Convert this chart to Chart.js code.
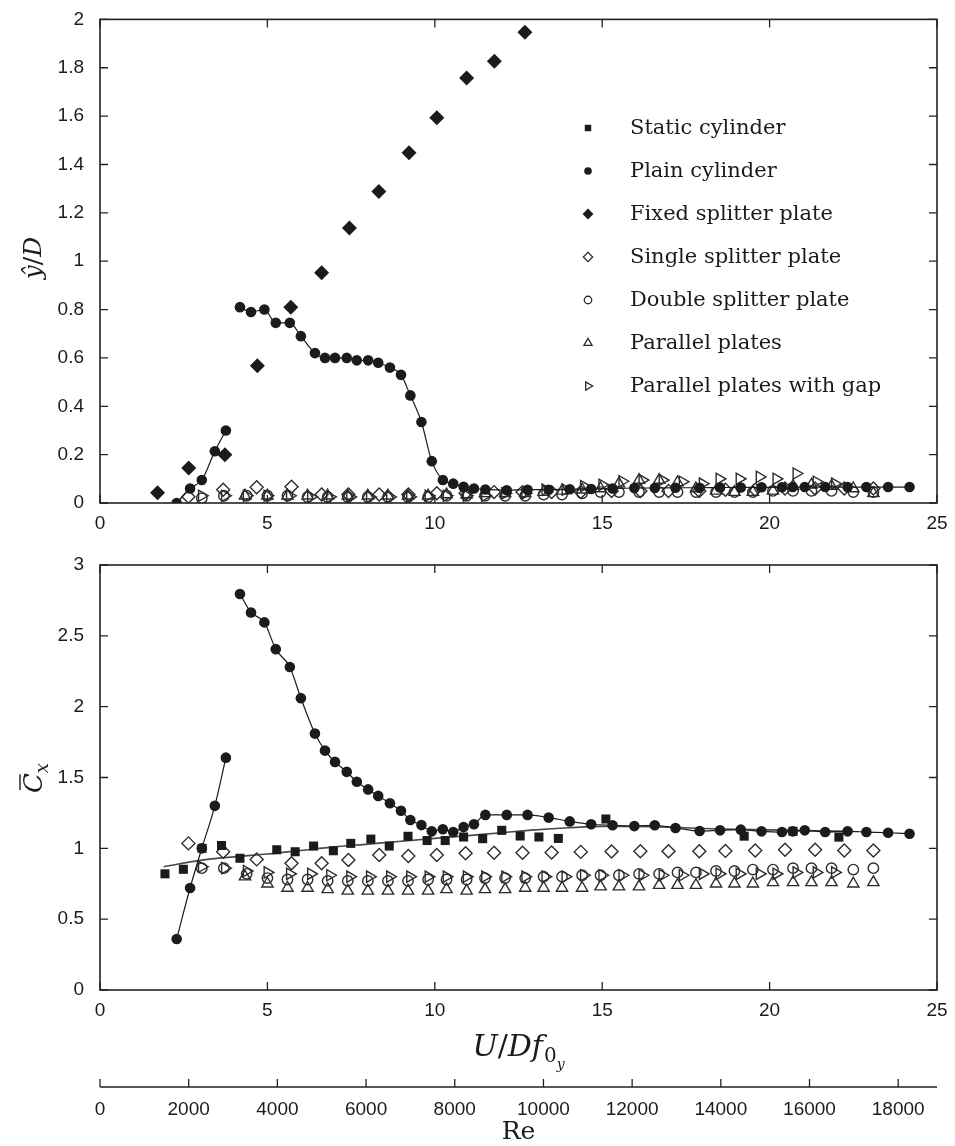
<!DOCTYPE html>
<html>
<head>
<meta charset="utf-8">
<title>Cylinder response: amplitude and mean drag</title>
<script src="https://cdn.jsdelivr.net/npm/chart.js@4.4.1/dist/chart.umd.min.js"></script>
<style>
  body { margin: 0; background: #fff; }
  #wrap { position: relative; width: 955px; height: 1146px; }
  #ampBox { position: absolute; left: 0; top: 0; width: 955px; height: 545px; }
  #dragBox { position: absolute; left: 0; top: 545px; width: 955px; height: 601px; }
</style>
</head>
<body>
<div id="wrap">
  <div id="ampBox"><canvas id="ampChart"></canvas></div>
  <div id="dragBox"><canvas id="dragChart"></canvas></div>
</div>
<script>
// axis ticks
const uTicks = [0, 5, 10, 15, 20, 25];
const ampTicks = [0, 0.2, 0.4, 0.6, 0.8, 1, 1.2, 1.4, 1.6, 1.8, 2];
const cxTicks = [0, 0.5, 1, 1.5, 2, 2.5, 3];
const reTicks = [0, 2000, 4000, 6000, 8000, 10000, 12000, 14000, 16000, 18000];
const reAtU25 = 18875; // Re at U/Df = 25

// plain cylinder, lower and upper branch
const plainLowU = [2.29, 2.69, 3.04, 3.43, 3.76];
const plainLowAmp = [0.0, 0.06, 0.095, 0.214, 0.30];
const plainLowCx = [0.36, 0.72, 1.0, 1.30, 1.64];

const plainHighU = [4.18, 4.51, 4.91, 5.25, 5.67, 6.0, 6.42, 6.72, 7.02, 7.37, 7.67, 8.01, 8.31, 8.66, 8.99,
  9.27, 9.6, 9.91, 10.24, 10.55, 10.86, 11.17, 11.51, 12.15, 12.77, 13.4, 14.03, 14.67, 15.31, 15.96,
  16.57, 17.19, 17.91, 18.52, 19.14, 19.76, 20.37, 20.69, 21.05, 21.66, 22.33, 22.89, 23.54, 24.18];
const plainHighAmp = [0.81, 0.79, 0.80, 0.745, 0.745, 0.69, 0.62, 0.60, 0.60, 0.60, 0.59, 0.59, 0.58, 0.56, 0.53,
  0.445, 0.335, 0.173, 0.095, 0.08, 0.067, 0.06, 0.056, 0.053, 0.055, 0.055, 0.057, 0.058, 0.06, 0.062,
  0.062, 0.063, 0.063, 0.064, 0.064, 0.065, 0.065, 0.066, 0.066, 0.066, 0.066, 0.066, 0.066, 0.066];
const plainHighCx = [2.795, 2.665, 2.595, 2.406, 2.28, 2.06, 1.81, 1.69, 1.61, 1.54, 1.47, 1.416, 1.37, 1.318, 1.265,
  1.2, 1.164, 1.12, 1.135, 1.115, 1.15, 1.17, 1.236, 1.236, 1.236, 1.217, 1.19, 1.17, 1.163, 1.157,
  1.163, 1.144, 1.122, 1.127, 1.132, 1.12, 1.115, 1.12, 1.127, 1.115, 1.12, 1.115, 1.11, 1.103];

// static cylinder (drag only) and its fitted curve
const staticU = [1.94, 2.49, 3.05, 3.63, 4.18, 5.28, 5.83, 6.38, 6.97, 7.49, 8.09, 8.64, 9.2, 9.77, 10.31,
  10.86, 11.43, 12.0, 12.55, 13.11, 13.69, 15.11, 19.24, 20.7, 22.07];
const staticCx = [0.82, 0.852, 1.0, 1.02, 0.93, 0.99, 0.976, 1.016, 0.983, 1.035, 1.065, 1.016, 1.085, 1.055, 1.055,
  1.08, 1.068, 1.127, 1.087, 1.08, 1.07, 1.207, 1.086, 1.12, 1.079];
const staticFitU = [1.9, 3, 4, 5, 6, 7, 8, 9, 10, 11, 12, 13, 14, 15, 16, 17, 18, 19, 20, 21, 22.3];
const staticFitCx = [0.87, 0.915, 0.94, 0.96, 0.985, 1.01, 1.03, 1.05, 1.07, 1.09, 1.11, 1.13, 1.145, 1.155, 1.155,
  1.15, 1.14, 1.135, 1.13, 1.125, 1.12];

// fixed splitter plate (amplitude only)
const fixedU = [1.72, 2.65, 3.73, 4.70, 5.70, 6.62, 7.45, 8.33, 9.23, 10.06, 10.95, 11.78, 12.69];
const fixedAmp = [0.042, 0.145, 0.20, 0.568, 0.81, 0.952, 1.137, 1.288, 1.449, 1.593, 1.758, 1.827, 1.947];

// single splitter plate
const singleU = [2.64, 3.68, 4.68, 5.72, 6.62, 7.42, 8.34, 9.21, 10.06, 10.92, 11.77, 12.62, 13.49, 14.36, 15.28,
  16.14, 16.98, 17.9, 18.68, 19.57, 20.46, 21.36, 22.23, 23.1];
const singleAmp = [0.026, 0.055, 0.065, 0.067, 0.035, 0.035, 0.035, 0.035, 0.04, 0.04, 0.045, 0.045, 0.045, 0.045, 0.05,
  0.05, 0.05, 0.05, 0.055, 0.055, 0.06, 0.06, 0.06, 0.06];
const singleCx = [1.035, 0.976, 0.922, 0.894, 0.894, 0.917, 0.953, 0.946, 0.953, 0.965, 0.969, 0.969, 0.97, 0.975, 0.977,
  0.98, 0.98, 0.98, 0.982, 0.985, 0.99, 0.99, 0.985, 0.985];

// double splitter plate
const doubleU = [3.04, 3.7, 4.38, 5.0, 5.6, 6.2, 6.8, 7.4, 8.0, 8.6, 9.2, 9.8, 10.35, 10.95, 11.5, 12.1, 12.7,
  13.25, 13.8, 14.4, 14.95, 15.5, 16.1, 16.7, 17.25, 17.8, 18.4, 18.95, 19.5, 20.1, 20.7, 21.25, 21.85, 22.5, 23.1];
const doubleAmp = [0.02, 0.03, 0.03, 0.03, 0.03, 0.025, 0.025, 0.025, 0.025, 0.025, 0.025, 0.025, 0.03, 0.03, 0.03,
  0.03, 0.03, 0.035, 0.035, 0.04, 0.045, 0.045, 0.045, 0.045, 0.045, 0.045, 0.045, 0.045, 0.045, 0.05,
  0.05, 0.05, 0.05, 0.045, 0.045];
const doubleCx = [0.86, 0.86, 0.82, 0.79, 0.78, 0.78, 0.77, 0.77, 0.77, 0.77, 0.77, 0.78, 0.78, 0.78, 0.79,
  0.79, 0.79, 0.80, 0.80, 0.81, 0.81, 0.81, 0.82, 0.82, 0.83, 0.83, 0.84, 0.84, 0.85, 0.85,
  0.86, 0.86, 0.86, 0.85, 0.86];

// parallel plates
const parU = [4.33, 5.0, 5.6, 6.2, 6.8, 7.4, 8.0, 8.6, 9.2, 9.8, 10.35, 10.95, 11.5, 12.1, 12.7, 13.25, 13.8,
  14.4, 14.95, 15.5, 16.1, 16.7, 17.25, 17.8, 18.4, 18.95, 19.5, 20.1, 20.7, 21.25, 21.85, 22.5, 23.1];
const parAmp = [0.03, 0.03, 0.03, 0.03, 0.03, 0.03, 0.03, 0.03, 0.03, 0.03, 0.035, 0.035, 0.04, 0.04, 0.04,
  0.045, 0.05, 0.055, 0.06, 0.08, 0.095, 0.095, 0.085, 0.06, 0.05, 0.045, 0.045, 0.05, 0.07, 0.075,
  0.07, 0.06, 0.04];
const parCx = [0.80, 0.75, 0.72, 0.72, 0.71, 0.70, 0.70, 0.70, 0.70, 0.70, 0.71, 0.70, 0.71, 0.71, 0.72,
  0.72, 0.72, 0.72, 0.73, 0.73, 0.73, 0.74, 0.74, 0.74, 0.75, 0.75, 0.75, 0.76, 0.76, 0.76,
  0.76, 0.75, 0.76];

// parallel plates with gap
const gapU = [3.04, 3.73, 4.38, 5.0, 5.67, 6.3, 6.87, 7.47, 8.06, 8.66, 9.26, 9.81, 10.35, 10.95, 11.5, 12.1,
  12.7, 13.3, 13.9, 14.45, 15.0, 15.6, 16.2, 16.8, 17.4, 18.0, 18.5, 19.1, 19.7, 20.2, 20.8, 21.4, 21.95];
const gapAmp = [0.03, 0.03, 0.03, 0.03, 0.03, 0.025, 0.025, 0.025, 0.025, 0.025, 0.025, 0.03, 0.03, 0.03, 0.03,
  0.04, 0.04, 0.055, 0.055, 0.07, 0.075, 0.09, 0.095, 0.095, 0.088, 0.08, 0.10, 0.10, 0.108, 0.10,
  0.122, 0.088, 0.08];
const gapCx = [0.87, 0.86, 0.84, 0.83, 0.82, 0.82, 0.81, 0.80, 0.80, 0.80, 0.80, 0.80, 0.80, 0.80, 0.80,
  0.80, 0.80, 0.80, 0.80, 0.81, 0.81, 0.81, 0.81, 0.81, 0.81, 0.82, 0.82, 0.82, 0.82, 0.82,
  0.83, 0.83, 0.83];

const keyLabels = ['Static cylinder', 'Plain cylinder', 'Fixed splitter plate', 'Single splitter plate',
  'Double splitter plate', 'Parallel plates', 'Parallel plates with gap'];

const ink = '#1b1b1b';
const hollowInk = '#2c2c2c';
const sans = "'Liberation Sans', Arial, sans-serif";
const serif = "'DejaVu Serif', 'Liberation Serif', serif";

const looks = {
  'Static cylinder': { shape: 'rect', radius: 6.4, fill: true },
  'Plain cylinder': { shape: 'circle', radius: 5.3, fill: true },
  'Fixed splitter plate': { shape: 'rectRot', radius: 7.5, fill: true },
  'Single splitter plate': { shape: 'rectRot', radius: 6.5, fill: false },
  'Double splitter plate': { shape: 'circle', radius: 5.2, fill: false },
  'Parallel plates': { shape: 'triangle', radius: 6.5, fill: false },
  'Parallel plates with gap': { shape: 'triangle', radius: 6.5, fill: false, rotation: 90 },
};

function pts(xs, ys) {
  return xs.map((x, i) => ({ x, y: ys[i] }));
}

function markers(label, xs, ys) {
  const look = looks[label];
  return {
    label,
    data: pts(xs, ys),
    xAxisID: 'x',
    yAxisID: 'y',
    showLine: false,
    pointStyle: look.shape,
    pointRotation: look.rotation || 0,
    pointRadius: look.radius,
    pointBackgroundColor: look.fill ? ink : 'rgba(0,0,0,0)',
    pointBorderColor: look.fill ? ink : hollowInk,
    pointBorderWidth: look.fill ? 0 : 1.4,
  };
}

function joined(label, xs, ys) {
  const ds = markers(label, xs, ys);
  ds.showLine = true;
  ds.borderColor = ink;
  ds.borderWidth = 1.2;
  ds.cubicInterpolationMode = 'monotone';
  return ds;
}

function curve(label, xs, ys) {
  return {
    label,
    data: pts(xs, ys),
    xAxisID: 'x',
    yAxisID: 'y',
    showLine: true,
    pointRadius: 0,
    borderColor: '#4a4a4a',
    borderWidth: 1.6,
    cubicInterpolationMode: 'monotone',
  };
}

function fixedTicks(values) {
  return s => { s.ticks = values.map(v => ({ value: v })); };
}

function tickStyle(pad) {
  return { font: { family: sans, size: 19 }, color: ink, padding: pad, maxRotation: 0, autoSkip: false, callback: v => String(v) };
}

function xAxis(extra) {
  return Object.assign({
    type: 'linear',
    position: 'bottom',
    min: 0,
    max: 25,
    grid: { display: false },
    border: { display: false },
    ticks: tickStyle(1),
    afterBuildTicks: fixedTicks(uTicks),
  }, extra);
}

function yAxis(max, values) {
  return {
    type: 'linear',
    min: 0,
    max,
    grid: { display: false },
    border: { display: false },
    ticks: tickStyle(8),
    afterBuildTicks: fixedTicks(values),
    afterFit: s => { s.width = 100; },
  };
}

// box round the plot area, ticks pointing inwards, and the Re line below
const frameBox = {
  id: 'frameBox',
  afterDatasetsDraw(chart) {
    const { ctx, chartArea: a, scales } = chart;
    const len = 8;
    ctx.save();
    ctx.strokeStyle = '#222';
    ctx.lineWidth = 1.6;
    ctx.strokeRect(a.left, a.top, a.right - a.left, a.bottom - a.top);
    ctx.lineWidth = 1.3;
    ctx.beginPath();
    scales.x.ticks.forEach(t => {
      const px = scales.x.getPixelForValue(t.value);
      ctx.moveTo(px, a.bottom); ctx.lineTo(px, a.bottom - len);
      ctx.moveTo(px, a.top); ctx.lineTo(px, a.top + len);
    });
    scales.y.ticks.forEach(t => {
      const py = scales.y.getPixelForValue(t.value);
      ctx.moveTo(a.left, py); ctx.lineTo(a.left + len, py);
      ctx.moveTo(a.right, py); ctx.lineTo(a.right - len, py);
    });
    const re = scales.re;
    if (re) {
      ctx.moveTo(a.left, re.top); ctx.lineTo(a.right, re.top);
      re.ticks.forEach(t => {
        const px = re.getPixelForValue(t.value);
        ctx.moveTo(px, re.top); ctx.lineTo(px, re.top - len);
      });
    }
    ctx.stroke();
    ctx.restore();
  }
};

// text made of runs: { t, font, dy, bar }
function drawRuns(ctx, runs) {
  let w = 0;
  runs.forEach(r => { ctx.font = r.font; r.w = ctx.measureText(r.t).width + (r.gap || 0); w += r.w; });
  let x = -w / 2;
  ctx.textAlign = 'left';
  ctx.textBaseline = 'alphabetic';
  runs.forEach(r => {
    ctx.font = r.font;
    ctx.fillText(r.t, x, r.dy || 0);
    if (r.bar) {
      ctx.lineWidth = 1.4;
      ctx.beginPath();
      ctx.moveTo(x + 3, r.bar); ctx.lineTo(x + r.w - 1, r.bar);
      ctx.stroke();
    }
    x += r.w;
  });
}

function axisText(items) {
  return {
    id: 'axisText',
    afterDraw(chart) {
      const ctx = chart.ctx;
      items.forEach(item => {
        const at = item.at(chart);
        ctx.save();
        ctx.fillStyle = ink;
        ctx.strokeStyle = ink;
        ctx.translate(at.x, at.y);
        if (item.vertical) ctx.rotate(-Math.PI / 2);
        drawRuns(ctx, item.runs);
        ctx.restore();
      });
    }
  };
}

function keyBox(rows) {
  return {
    id: 'keyBox',
    afterDraw(chart) {
      const ctx = chart.ctx;
      ctx.save();
      rows.forEach((label, i) => {
        const look = looks[label];
        const cy = 128 + i * 43;
        ctx.fillStyle = look.fill ? ink : 'rgba(0,0,0,0)';
        ctx.strokeStyle = hollowInk;
        ctx.lineWidth = 1.3;
        Chart.helpers.drawPoint(ctx, {
          pointStyle: look.shape,
          radius: look.radius * 0.72,
          rotation: look.rotation || 0,
          borderWidth: look.fill ? 0 : 1.3,
        }, 588, cy);
        ctx.fillStyle = ink;
        ctx.font = '21px ' + serif;
        ctx.textAlign = 'left';
        ctx.textBaseline = 'middle';
        ctx.fillText(label, 630, cy + 1);
      });
      ctx.restore();
    }
  };
}

const common = {
  responsive: true,
  maintainAspectRatio: false,
  animation: false,
  devicePixelRatio: 1,
  events: [],
};

new Chart(document.getElementById('ampChart'), {
  type: 'scatter',
  data: {
    datasets: [
      joined('Plain cylinder', plainLowU, plainLowAmp),
      joined('Plain cylinder', plainHighU, plainHighAmp),
      markers('Fixed splitter plate', fixedU, fixedAmp),
      markers('Single splitter plate', singleU, singleAmp),
      markers('Double splitter plate', doubleU, doubleAmp),
      markers('Parallel plates', parU, parAmp),
      markers('Parallel plates with gap', gapU, gapAmp),
    ]
  },
  options: Object.assign({}, common, {
    layout: { padding: { top: 17, right: 18, left: 0, bottom: 0 } },
    plugins: { legend: { display: false }, tooltip: { enabled: false } },
    scales: {
      x: xAxis({ afterFit: s => { s.height = 42; } }),
      y: yAxis(2, ampTicks),
    }
  }),
  plugins: [frameBox, keyBox(keyLabels), axisText([
    {
      vertical: true,
      at: () => ({ x: 41, y: 258 }),
      runs: [
        { t: 'ŷ', font: 'italic 25px ' + serif },
        { t: '/', font: '25px ' + serif },
        { t: 'D', font: 'italic 25px ' + serif },
      ]
    }
  ])]
});

new Chart(document.getElementById('dragChart'), {
  type: 'scatter',
  data: {
    datasets: [
      joined('Plain cylinder', plainLowU, plainLowCx),
      joined('Plain cylinder', plainHighU, plainHighCx),
      markers('Static cylinder', staticU, staticCx),
      markers('Single splitter plate', singleU, singleCx),
      markers('Double splitter plate', doubleU, doubleCx),
      markers('Parallel plates', parU, parCx),
      markers('Parallel plates with gap', gapU, gapCx),
      curve('Static cylinder fit', staticFitU, staticFitCx),
    ]
  },
  options: Object.assign({}, common, {
    layout: { padding: { top: 20, right: 18, left: 0, bottom: 0 } },
    plugins: { legend: { display: false }, tooltip: { enabled: false } },
    scales: {
      x: xAxis({ weight: 0, afterFit: s => { s.height = 97; } }),
      y: yAxis(3, cxTicks),
      re: xAxis({
        axis: 'x',
        weight: 1,
        max: reAtU25,
        ticks: tickStyle(3),
        afterBuildTicks: fixedTicks(reTicks),
        afterFit: s => { s.height = 59; },
      }),
    }
  }),
  plugins: [frameBox, axisText([
    {
      vertical: true,
      at: () => ({ x: 42, y: 233 }),
      runs: [
        { t: 'C', font: 'italic 26px ' + serif, bar: -22 },
        { t: 'x', font: 'italic 18px ' + serif, dy: 6 },
      ]
    },
    {
      at: c => ({ x: (c.chartArea.left + c.chartArea.right) / 2, y: c.scales.x.top + 66 }),
      runs: [
        { t: 'U', font: 'italic 30px ' + serif },
        { t: '/', font: '30px ' + serif },
        { t: 'D', font: 'italic 30px ' + serif },
        { t: 'f', font: 'italic 30px ' + serif, gap: 1 },
        { t: '0', font: '20px ' + serif, dy: 6 },
        { t: 'y', font: 'italic 14px ' + serif, dy: 13 },
      ]
    },
    {
      at: c => ({ x: (c.chartArea.left + c.chartArea.right) / 2, y: c.scales.re.top + 52 }),
      runs: [
        { t: 'Re', font: '25px ' + serif },
      ]
    }
  ])]
});
</script>
</body>
</html>
